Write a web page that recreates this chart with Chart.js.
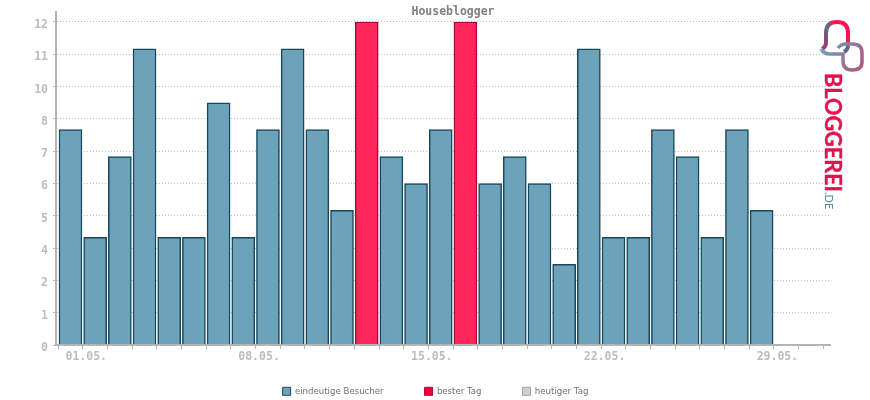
<!DOCTYPE html>
<html>
<head>
<meta charset="utf-8">
<style>
html, body { margin: 0; padding: 0; background: #fff; }
#wrap { position: relative; width: 870px; height: 400px; }
#chart { display: block; }
#logo { position: absolute; left: 810px; top: 15px; }
</style>
<script src="https://cdn.jsdelivr.net/npm/chart.js@4"></script>
</head>
<body>
<div id="wrap">
  <canvas id="chart" width="870" height="400"></canvas>
  <svg id="logo" width="60" height="205" viewBox="0 0 60 205">
    <defs>
      <linearGradient id="txt" x1="0" y1="58" x2="0" y2="178" gradientUnits="userSpaceOnUse">
        <stop offset="0" stop-color="#e0154f"/>
        <stop offset="0.55" stop-color="#8c3f70"/>
        <stop offset="1" stop-color="#4f7d9c"/>
      </linearGradient>
      <linearGradient id="bub1" x1="12" y1="34" x2="38" y2="10" gradientUnits="userSpaceOnUse">
        <stop offset="0" stop-color="#b0305c"/>
        <stop offset="0.55" stop-color="#51708f"/>
        <stop offset="0.75" stop-color="#ff1450"/>
        <stop offset="1" stop-color="#ff1450"/>
      </linearGradient>
      <linearGradient id="bub2" x1="12" y1="36" x2="52" y2="55" gradientUnits="userSpaceOnUse">
        <stop offset="0" stop-color="#6ca2ba"/>
        <stop offset="1" stop-color="#b0557f"/>
      </linearGradient>
    </defs>
    <path d="M12 34 Q16 32 16 27 L16 18 Q16 7 27 7 Q38 7 38 18 L38 30 Q38 35 34 37" fill="none" stroke="url(#bub1)" stroke-width="4"/>
    <path d="M11 34 Q14 39 20 39 L33 39 L33 46 Q33 55 42 55 Q52 55 52 47 L52 38 Q52 29 43 29 L36 29 Q31 29 28 33" fill="none" stroke="url(#bub2)" stroke-width="3.5"/>
    <text transform="translate(15 58) rotate(90)" font-family="Lato, sans-serif" font-weight="bold" font-size="22" textLength="119" lengthAdjust="spacingAndGlyphs" fill="url(#txt)" stroke="url(#txt)" stroke-width="0.4">BLOGGEREI</text>
    <text transform="translate(15 177) rotate(90)" font-family="Lato, sans-serif" font-size="11" fill="#4f86a4">.DE</text>
  </svg>
</div>
<script>
const dayNumbers = [1,2,3,4,5,6,7,8,9,10,11,12,13,14,15,16,17,18,19,20,21,22,23,24,25,26,27,28,29,30,31];
const shownDays = [1,8,15,22,29];
const visitors = [8,4,7,11,4,4,9,4,8,11,8,5,null,7,6,8,null,6,7,6,3,11,4,4,8,7,4,8,5,null,null];
const bestDay = [null,null,null,null,null,null,null,null,null,null,null,null,12,null,null,null,12,null,null,null,null,null,null,null,null,null,null,null,null,null,null];
const today = [null,null,null,null,null,null,null,null,null,null,null,null,null,null,null,null,null,null,null,null,null,null,null,null,null,null,null,null,null,null,null];
const yTicks = [0,1.2,2.4,3.6,4.8,6,7.2,8.4,9.6,10.8,12];

const axisGrey = "#b4b4b4";
const labelGrey = "#bcbcbc";
const mono = "'DejaVu Sans Mono', monospace";
const legendPadding = 41;

const chartTitle = {
  id: "chartTitle",
  beforeInit(chart) {
    // legend keeps the wide gaps but takes almost no height
    const fit = chart.legend.fit;
    chart.legend.fit = function () { fit.call(this); this.height = 14; };
  },
  afterLayout(chart) {
    chart.legend.top = 387 - legendPadding;
    chart.legend.left += legendPadding / 2;
    chart.legend.right += legendPadding / 2;
  },
  afterDraw(chart) {
    const c = chart.ctx;
    c.save();
    c.font = "bold 11.5px " + mono;
    c.fillStyle = "#808080";
    c.textAlign = "center";
    c.textBaseline = "middle";
    c.fillText("Houseblogger", 453, 12);
    c.restore();
  }
};

new Chart(document.getElementById("chart"), {
  type: "bar",
  data: {
    labels: dayNumbers,
    datasets: [
      { label: "eindeutige Besucher", data: visitors, backgroundColor: "#6ca2ba", borderColor: "#17475a", borderWidth: 1.5 },
      { label: "bester Tag", data: bestDay, backgroundColor: "#ff265c", borderColor: "#b0003a", borderWidth: 1.5 },
      { label: "heutiger Tag", data: today, backgroundColor: "#d0d0d0", borderColor: "#a0a0a0", borderWidth: 1.5 }
    ]
  },
  options: {
    responsive: false,
    animation: false,
    layout: { padding: { left: 0, right: 40, top: 12, bottom: 0 } },
    datasets: { bar: { barThickness: 23, grouped: false } },
    plugins: {
      tooltip: { enabled: false },
      title: { display: false },
      legend: {
        position: "bottom",
        labels: {
          font: { family: "'DejaVu Sans', sans-serif", size: 8.6 },
          color: "#707070",
          boxWidth: 8,
          boxHeight: 8,
          padding: legendPadding,
          generateLabels: () => [
            { text: "eindeutige Besucher", fillStyle: "#6ca2ba", strokeStyle: "#17475a", lineWidth: 1, fontColor: "#707070" },
            { text: "bester Tag", fillStyle: "#f70040", strokeStyle: "#b0003a", lineWidth: 1, fontColor: "#707070" },
            { text: "heutiger Tag", fillStyle: "#d0d0d0", strokeStyle: "#a0a0a0", lineWidth: 1, fontColor: "#707070" }
          ]
        }
      }
    },
    scales: {
      x: {
        type: "linear",
        stacked: true,
        offset: false,
        min: 0.413,
        max: 31.77,
        afterBuildTicks(axis) { axis.ticks = dayNumbers.map(v => ({ value: v })); },
        afterFit(axis) { axis.height = 41; },
        border: { color: axisGrey, width: 2, z: 1 },
        grid: { drawOnChartArea: false, color: axisGrey, tickLength: 4 },
        ticks: {
          autoSkip: false,
          maxRotation: 0,
          align: "start",
          labelOffset: -5,
          padding: 1,
          color: labelGrey,
          font: { family: mono, size: 11.5, weight: "bold" },
          callback: v => shownDays.includes(v) ? String(v).padStart(2, "0") + ".05." : ""
        }
      },
      y: {
        stacked: true,
        min: 0,
        max: 12.37,
        afterBuildTicks(axis) { axis.ticks = yTicks.map(v => ({ value: v })); },
        afterFit(axis) { axis.width = 56; },
        border: { color: axisGrey, width: 2, dash: [1, 2] },
        grid: { color: "#c0c0c0", tickColor: axisGrey, tickLength: 3, lineWidth: 1 },
        ticks: {
          color: labelGrey,
          padding: 5,
          labelOffset: 3,
          font: { family: mono, size: 11.5, weight: "bold" },
          callback: v => Math.round(v)
        }
      }
    }
  },
  plugins: [chartTitle]
});
</script>
</body>
</html>
